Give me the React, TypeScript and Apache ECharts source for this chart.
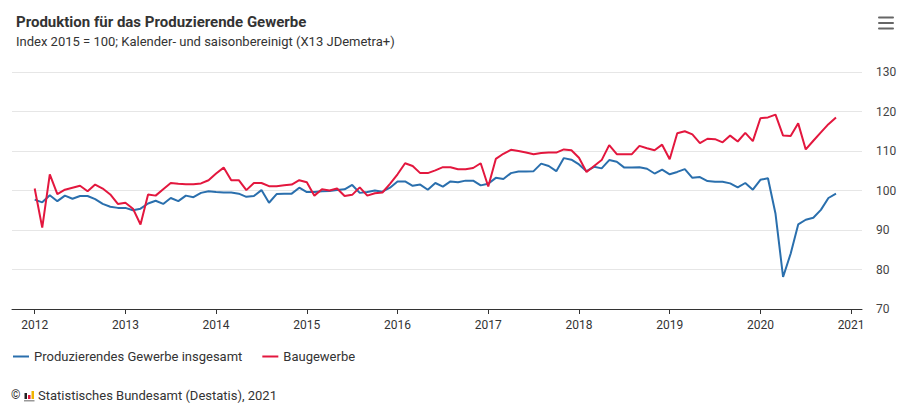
import React, { useEffect, useRef } from "react";
import * as echarts from "echarts";

const startYear = 2012;
const yearTicks = [2012, 2013, 2014, 2015, 2016, 2017, 2018, 2019, 2020, 2021];
const seriesNames = ["Produzierendes Gewerbe insgesamt", "Baugewerbe"];

// Monthly values from Jan 2012 to Nov 2020
const produzierendesGewerbe = [
  97.7, 97.0, 98.8, 97.3, 98.7, 97.9, 98.6, 98.6, 97.8, 96.6, 95.9, 95.6,
  95.6, 95.0, 95.4, 96.7, 97.4, 96.6, 98.1, 97.3, 98.7, 98.3, 99.4, 99.8,
  99.6, 99.5, 99.5, 99.2, 98.4, 98.6, 100.1, 96.9, 99.1, 99.2, 99.2, 100.7,
  99.6, 99.6, 99.8, 99.9, 100.1, 100.3, 101.4, 99.4, 99.6, 100.0, 99.7, 100.7,
  102.3, 102.3, 101.2, 101.5, 100.2, 101.9, 101.0, 102.3, 102.1, 102.5, 102.5, 101.3,
  101.7, 103.2, 102.9, 104.4, 104.8, 104.8, 104.9, 106.8, 106.2, 104.9, 108.2, 107.8,
  106.6, 104.9, 106.0, 105.6, 107.7, 107.3, 105.8, 105.8, 105.9, 105.5, 104.3, 105.3,
  104.1, 104.7, 105.4, 103.2, 103.4, 102.4, 102.2, 102.2, 101.8, 100.8, 101.9, 100.2,
  102.7, 103.1, 94.1, 78.1, 84.0, 91.4, 92.6, 93.1, 95.1, 98.1, 99.2,
];
const baugewerbe = [
  100.5, 90.6, 104.1, 99.1, 100.2, 100.7, 101.2, 99.8, 101.5, 100.5, 99.0, 96.6,
  96.9, 95.4, 91.4, 99.0, 98.7, 100.3, 101.9, 101.7, 101.6, 101.6, 101.8, 102.6,
  104.3, 105.8, 102.6, 102.6, 100.1, 101.9, 101.9, 101.1, 101.1, 101.3, 101.5, 102.6,
  102.1, 98.7, 100.3, 100.0, 100.5, 98.6, 98.9, 100.8, 98.7, 99.3, 99.5, 101.7,
  104.1, 106.9, 106.2, 104.4, 104.4, 105.1, 105.9, 105.9, 105.4, 105.4, 105.7, 106.9,
  101.0, 108.0, 109.3, 110.3, 110.0, 109.6, 109.2, 109.5, 109.6, 109.6, 110.4, 110.2,
  108.3, 104.7, 106.2, 107.7, 111.5, 109.2, 109.2, 109.2, 111.3, 110.7, 110.2, 111.6,
  107.9, 114.5, 115.0, 114.2, 112.0, 113.1, 113.0, 112.2, 113.9, 112.4, 114.6, 112.5,
  118.3, 118.5, 119.2, 113.9, 113.8, 117.0, 110.4, 112.6, 114.7, 116.8, 118.5,
];

const toPoints = (vals: number[]) => vals.map((v, i) => [startYear + i / 12, v]);

const FONT = "Roboto, 'Noto Sans', sans-serif";

export default function App() {
  const ref = useRef<HTMLDivElement>(null);
  useEffect(() => {
    if (!ref.current) return;
    const chart = echarts.init(ref.current, undefined, { renderer: "svg" });
    chart.setOption({
      animation: false,
      backgroundColor: "#ffffff",
      textStyle: { fontFamily: FONT },
      title: {
        text: "Produktion für das Produzierende Gewerbe",
        subtext: "Index 2015 = 100; Kalender- und saisonbereinigt (X13 JDemetra+)",
        left: 11,
        top: 7,
        itemGap: 1,
        textStyle: { fontFamily: FONT, fontSize: 15, fontWeight: "bold", color: "#333333", lineHeight: 20 },
        subtextStyle: { fontFamily: FONT, fontSize: 13, color: "#333333", lineHeight: 16 },
      },
      legend: {
        left: 8,
        top: 345,
        itemWidth: 16,
        itemHeight: 2,
        itemGap: 20,
        icon: "rect",
        textStyle: { fontFamily: FONT, fontSize: 13, color: "#333333" },
        data: seriesNames,
      },
      grid: { left: 12, right: 56, top: 72, bottom: 109, containLabel: false },
      xAxis: {
        type: "value",
        min: 2011.75,
        max: 2021.12,
        axisLine: { show: true, lineStyle: { color: "#333333", width: 1 } },
        axisTick: {
          show: true,
          length: 5,
          lineStyle: { color: "#333333" },
          customValues: yearTicks,
        },
        axisLabel: {
          customValues: yearTicks,
          formatter: (v: number) => String(Math.round(v)),
          fontSize: 12,
          color: "#333333",
          margin: 10,
          fontFamily: FONT,
        },
        splitLine: { show: false },
      },
      yAxis: {
        type: "value",
        position: "right",
        min: 70,
        max: 130,
        interval: 10,
        axisLine: { show: false },
        axisTick: { show: false },
        axisLabel: { fontSize: 12, color: "#444444", margin: 14, fontFamily: FONT },
        splitLine: { show: true, lineStyle: { color: "#e6e6e6", width: 1 } },
      },
      series: [
        {
          name: seriesNames[0],
          type: "line",
          data: toPoints(produzierendesGewerbe),
          showSymbol: false,
          lineStyle: { width: 2, color: "#2a6fad" },
          itemStyle: { color: "#2a6fad" },
        },
        {
          name: seriesNames[1],
          type: "line",
          data: toPoints(baugewerbe),
          showSymbol: false,
          lineStyle: { width: 2, color: "#e3173e" },
          itemStyle: { color: "#e3173e" },
        },
      ],
      graphic: [
        // menu icon
        { type: "rect", shape: { x: 878, y: 16.5, width: 16, height: 2, r: 1 }, style: { fill: "#666666" } },
        { type: "rect", shape: { x: 878, y: 22, width: 16, height: 2, r: 1 }, style: { fill: "#666666" } },
        { type: "rect", shape: { x: 878, y: 27.5, width: 16, height: 2, r: 1 }, style: { fill: "#666666" } },
        // credits
        {
          type: "text",
          left: 11,
          top: 389,
          style: { text: "©", fontSize: 12, fill: "#333333", fontFamily: FONT },
        },
        { type: "rect", shape: { x: 24.5, y: 393, width: 2.5, height: 6 }, style: { fill: "#222222" } },
        { type: "rect", shape: { x: 28, y: 395, width: 2.5, height: 4 }, style: { fill: "#e3173e" } },
        { type: "rect", shape: { x: 31.5, y: 391, width: 2.5, height: 8 }, style: { fill: "#f0b400" } },
        { type: "rect", shape: { x: 24, y: 400, width: 10.5, height: 1.5 }, style: { fill: "#999999" } },
        {
          type: "text",
          left: 38,
          top: 389,
          style: {
            text: "Statistisches Bundesamt (Destatis), 2021",
            fontSize: 13,
            fill: "#333333",
            fontFamily: FONT,
          },
        },
      ],
    });
    return () => chart.dispose();
  }, []);
  return (
    <div
      ref={ref}
      style={{ position: "fixed", left: 0, top: 0, width: 918, height: 418, background: "#fff" }}
    />
  );
}
